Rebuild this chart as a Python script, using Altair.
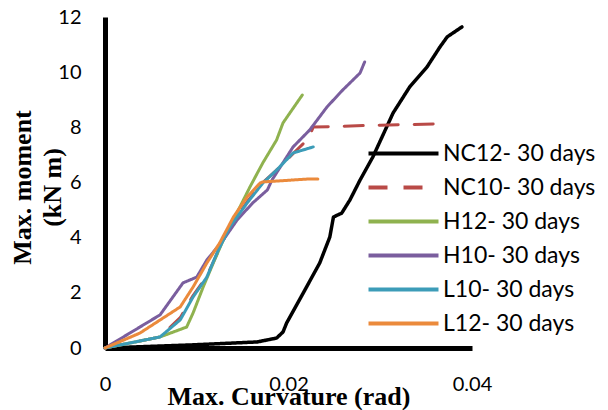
import altair as alt
import pandas as pd

series_names = ["NC12- 30 days", "NC10- 30 days", "H12- 30 days",
                "H10- 30 days", "L10- 30 days", "L12- 30 days"]
series_colors = ["#000000", "#B94A47", "#8FB24F", "#7A5E9E", "#3C9CB8", "#EB8A3C"]
series_dash = [[1, 0], [19, 16], [1, 0], [1, 0], [1, 0], [1, 0]]

nc12_x = [0, 0.0093, 0.0166, 0.0187, 0.0194, 0.0198, 0.0216, 0.0234, 0.0245, 0.0249,
          0.0258, 0.0267, 0.0278, 0.0292, 0.0314, 0.0332, 0.0351, 0.0365, 0.0373, 0.0389]
nc12_y = [0, 0.11, 0.22, 0.36, 0.58, 0.91, 1.99, 3.08, 4.02, 4.75,
          4.89, 5.37, 6.09, 6.93, 8.52, 9.46, 10.19, 10.91, 11.28, 11.64]

nc10_x = [0, 0.006, 0.0082, 0.0096, 0.0111, 0.0122, 0.0136, 0.0155, 0.0172, 0.0187,
          0.0209, 0.0222, 0.0227, 0.0300, 0.0358]
nc10_y = [0, 0.4, 1.1, 1.9, 2.6, 3.4, 4.4, 5.3, 6.0, 6.45, 7.18, 7.6, 8.01, 8.08, 8.12]

h12_x = [0, 0.006, 0.0089, 0.0096, 0.0107, 0.0118, 0.0129, 0.0147, 0.0158, 0.0172,
         0.0187, 0.0194, 0.0215]
h12_y = [0, 0.4, 0.76, 1.27, 2.21, 3.08, 3.92, 5.11, 5.84, 6.71, 7.54, 8.16, 9.17]

h10_x = [0, 0.0038, 0.006, 0.0085, 0.010, 0.0111, 0.0129, 0.0144, 0.0161, 0.0177,
         0.0182, 0.0205, 0.0223, 0.0242, 0.0259, 0.0278, 0.0283]
h10_y = [0, 0.76, 1.2, 2.36, 2.57, 3.19, 3.92, 4.64, 5.26, 5.73,
         6.09, 7.29, 7.9, 8.74, 9.35, 9.97, 10.37]

l10_x = [0, 0.006, 0.0082, 0.0096, 0.0111, 0.0122, 0.0136, 0.0155, 0.0172, 0.0187,
         0.0205, 0.0227]
l10_y = [0, 0.4, 1.02, 1.85, 2.57, 3.44, 4.39, 5.26, 5.98, 6.45, 7.07, 7.29]

l12_x = [0, 0.0038, 0.0082, 0.0096, 0.0111, 0.0125, 0.014, 0.0155, 0.0169, 0.0172,
         0.0223, 0.0232]
l12_y = [0, 0.54, 1.49, 2.21, 3.08, 3.81, 4.75, 5.48, 5.98, 6.02, 6.13, 6.13]

x_ticks = [0, 0.02, 0.04]
y_ticks = [0, 2, 4, 6, 8, 10, 12]

all_x = [nc12_x, nc10_x, h12_x, h10_x, l10_x, l12_x]
all_y = [nc12_y, nc10_y, h12_y, h10_y, l10_y, l12_y]

rows = []
for name, xs, ys in zip(series_names, all_x, all_y):
    for i, (a, b) in enumerate(zip(xs, ys)):
        rows.append({"series": name, "curv": a, "moment": b, "idx": i})
df = pd.DataFrame(rows)

color_scale = alt.Scale(domain=series_names, range=series_colors)
dash_scale = alt.Scale(domain=series_names, range=series_dash)

base = alt.Chart(df)

layers = []
for k, name in enumerate(series_names):
    enc = dict(
        x=alt.X("curv:Q",
                scale=alt.Scale(domain=[0, 0.04], nice=False, zero=True),
                axis=alt.Axis(values=x_ticks, title="Max. Curvature (rad)",
                              labelExpr="datum.value == 0 ? '0' : format(datum.value, '.2f')",
                              grid=False, ticks=False, tickSize=0, domainWidth=5,
                              domainColor="black", labelPadding=26, labelFlush=False,
                              titleY=56, titleBaseline="alphabetic")),
        y=alt.Y("moment:Q",
                scale=alt.Scale(domain=[0, 12], nice=False),
                axis=alt.Axis(values=y_ticks, title=["Max. moment", "(kN m)"],
                              format="d", grid=False, ticks=False, tickSize=0,
                              domainWidth=5, domainColor="black", labelPadding=24,
                              labelFlush=False,
                              titleX=-83, titleY=170, titleAngle=-90,
                              titleAlign="center", titleBaseline="middle",
                              titleLineHeight=30)),
        color=alt.Color("series:N", scale=color_scale,
                        legend=alt.Legend(title=None, orient="none",
                                          legendX=287, legendY=125,
                                          symbolType="M-5,0H5", symbolSize=196,
                                          symbolStrokeWidth=4, labelOffset=28,
                                          rowPadding=10, labelFontSize=23,
                                          labelFont="Lato", labelColor="black",
                                          labelLimit=300)),
        strokeDash=alt.StrokeDash("series:N", scale=dash_scale, legend=None),
        order="idx:Q",
    )
    layer = base.transform_filter(alt.datum.series == name).mark_line(
        strokeWidth=3 if k else 3.5, strokeCap="round", strokeJoin="round"
    ).encode(**enc)
    layers.append(layer)

chart = alt.layer(*layers).properties(
    width=367, height=331,
    autosize=alt.AutoSizeParams(type="none"),
    padding={"left": 97, "top": 9, "right": 128, "bottom": 62},
).configure_view(stroke=None).configure_axis(
    labelFont="Lato", labelFontSize=20, labelColor="black",
    titleFont="Liberation Serif", titleFontSize=26, titleFontWeight="bold",
    titleColor="black"
)

chart.save("out.html", embed_options={"renderer": "svg", "actions": False})
